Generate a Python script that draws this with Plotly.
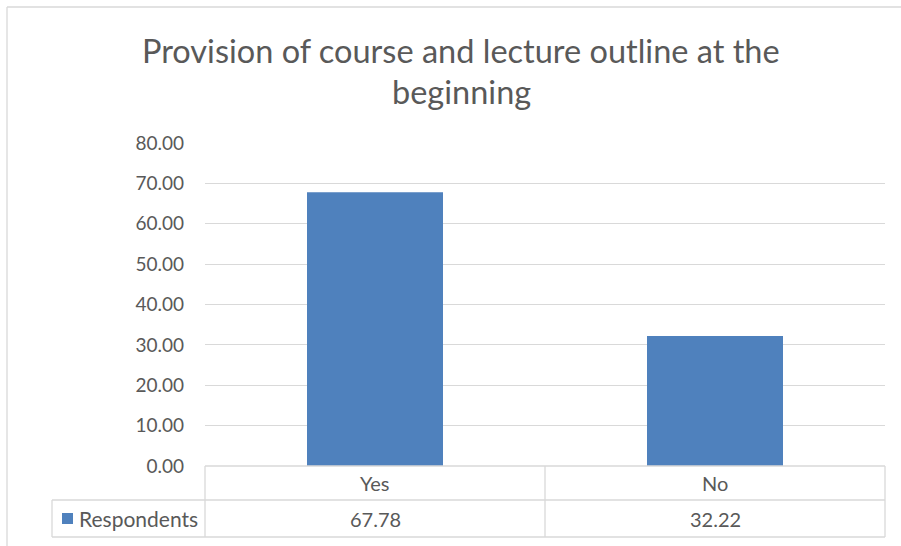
import plotly.graph_objects as go

TITLE_LINES = ['Provision of course and lecture outline at the', 'beginning']
CATEGORIES = ['Yes', 'No']
SERIES_NAME = 'Respondents'
VALUES = [67.78, 32.22]
Y_TICKS = [0, 10, 20, 30, 40, 50, 60, 70, 80]

BLUE = '#4F81BD'
GRID = '#d9d9d9'
TEXT = '#595959'
FONT = 'Lato'

# plot area in pixels
L, R, T, B = 205, 885, 143, 466
W, H = R - L, B - T


def px(x):
    return (x - L) / W


def py(y):
    return (B - y) / H


fig = go.Figure(go.Bar(
    x=CATEGORIES, y=VALUES,
    marker=dict(color=BLUE, line=dict(width=0)),
    width=0.4,
    name=SERIES_NAME,
))

fig.update_layout(
    width=901, height=546,
    margin=dict(l=L, r=901 - R, t=T, b=546 - B),
    paper_bgcolor='white', plot_bgcolor='white',
    font=dict(family=FONT, color=TEXT),
    showlegend=False,
    xaxis=dict(showticklabels=False, showgrid=False, zeroline=False,
               showline=False, range=[-0.5, 1.5]),
    yaxis=dict(range=[0, 80], tickvals=Y_TICKS, tickformat='.2f',
               showgrid=True, gridcolor=GRID, gridwidth=1.3,
               zeroline=False, showline=False,
               ticklabelstandoff=20,
               tickfont=dict(size=19, color=TEXT, family=FONT)),
)

# title lines
for text, yy in zip(TITLE_LINES, [50, 92]):
    fig.add_annotation(text=text, xref='paper', yref='paper',
                       x=px(461), y=py(yy), showarrow=False,
                       xanchor='center', yanchor='middle',
                       font=dict(size=32.5, color=TEXT, family=FONT))

# data table lines
lines = [
    (205, 466, 885, 466), (52, 500, 885, 500), (52, 537, 885, 537),
    (52, 500, 52, 537), (205, 466, 205, 537), (545, 466, 545, 537),
    (885, 466, 885, 537),
]
for x0, y0, x1, y1 in lines:
    fig.add_shape(type='line', xref='paper', yref='paper',
                  x0=px(x0), y0=py(y0), x1=px(x1), y1=py(y1),
                  line=dict(color=GRID, width=1.3))

# chart area border
fig.add_shape(type='line', xref='paper', yref='paper',
              x0=px(7), y0=py(7), x1=px(901), y1=py(7),
              line=dict(color=GRID, width=1.3))
fig.add_shape(type='line', xref='paper', yref='paper',
              x0=px(7), y0=py(7), x1=px(7), y1=py(546),
              line=dict(color=GRID, width=1.3))

# category row and value row
col_centers = [375, 715]
for cat, val, cx in zip(CATEGORIES, VALUES, col_centers):
    fig.add_annotation(text=cat, xref='paper', yref='paper',
                       x=px(cx), y=py(483), showarrow=False,
                       xanchor='center', yanchor='middle',
                       font=dict(size=20, color=TEXT, family=FONT))
    fig.add_annotation(text=f'{val:.2f}', xref='paper', yref='paper',
                       x=px(cx), y=py(519), showarrow=False,
                       xanchor='center', yanchor='middle',
                       font=dict(size=20, color=TEXT, family=FONT))

# legend key in table
fig.add_shape(type='rect', xref='paper', yref='paper',
              x0=px(62), y0=py(513), x1=px(73), y1=py(524),
              fillcolor=BLUE, line=dict(width=0))
fig.add_annotation(text=SERIES_NAME, xref='paper', yref='paper',
                   x=px(77), y=py(518), showarrow=False,
                   xanchor='left', yanchor='middle',
                   font=dict(size=21, color=TEXT, family=FONT))

# drop the page's default body margin so the figure sits at the window corner
fig.write_html('out.html', config={'displayModeBar': False},
               post_script="document.body.style.margin='0';")
